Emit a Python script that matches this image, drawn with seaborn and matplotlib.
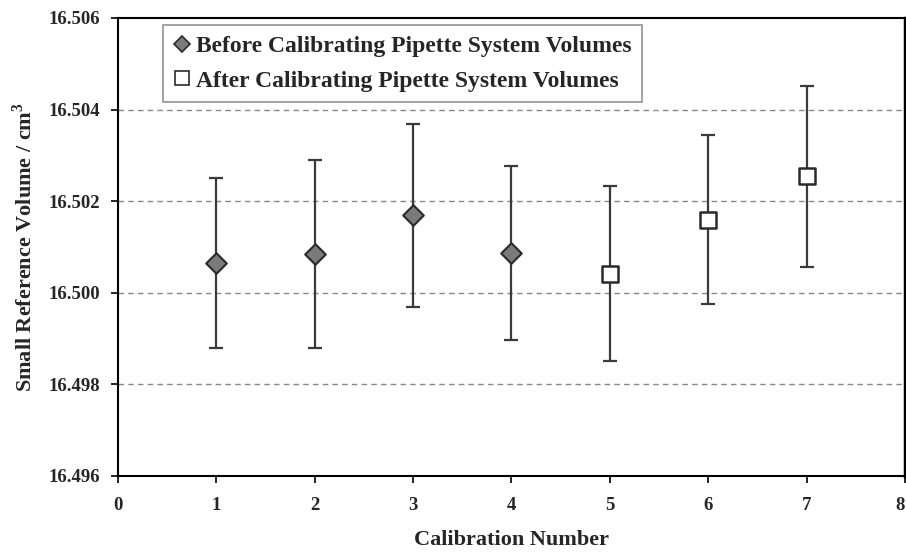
import matplotlib
matplotlib.use("Agg")
import matplotlib.pyplot as plt
import seaborn as sns
import pandas as pd
from matplotlib.lines import Line2D

calib_before = [1, 2, 3, 4]
vol_before = [16.50065, 16.50084, 16.50169, 16.50086]
err_before = [0.00186, 0.00205, 0.00200, 0.00190]

calib_after = [5, 6, 7]
vol_after = [16.50042, 16.50160, 16.50254]
err_after = [0.00191, 0.00184, 0.00197]

x_ticks = [0, 1, 2, 3, 4, 5, 6, 7, 8]
y_ticks = [16.496, 16.498, 16.500, 16.502, 16.504, 16.506]
label_before = "Before Calibrating Pipette System Volumes"
label_after = "After Calibrating Pipette System Volumes"

sns.set_style("white")
plt.rcParams['font.family'] = ['Liberation Serif', 'DejaVu Serif']
plt.rcParams['font.weight'] = 'bold'

df_b = pd.DataFrame({"x": calib_before, "y": vol_before})
df_a = pd.DataFrame({"x": calib_after, "y": vol_after})

fig = plt.figure(figsize=(9.06, 5.52), dpi=100)
ax = fig.add_axes([0.1302, 0.1377, 0.8687, 0.8297])

ax.errorbar(calib_before, vol_before, yerr=err_before, fmt='none', ecolor='#3a3a3a',
            elinewidth=1.6, capsize=5, capthick=1.6, zorder=2)
ax.errorbar(calib_after, vol_after, yerr=err_after, fmt='none', ecolor='#3a3a3a',
            elinewidth=1.6, capsize=5, capthick=1.6, zorder=2)

sns.scatterplot(data=df_b, x="x", y="y", marker="D", s=110, color="#7a7a7a",
                edgecolor="#2a2a2a", linewidth=1.5, ax=ax, zorder=3, legend=False)
sns.scatterplot(data=df_a, x="x", y="y", marker="s", s=120, color="white",
                edgecolor="#2a2a2a", linewidth=1.8, ax=ax, zorder=3, legend=False)

ax.set_xlim(0, 8)
ax.set_ylim(16.496, 16.506)
ax.set_xticks(x_ticks)
ax.set_yticks(y_ticks)
xlabs = ax.set_xticklabels([str(v) for v in x_ticks], fontsize=13.5, fontweight='bold')
xlabs[-1].set_horizontalalignment('right')
ax.set_yticklabels([f"{v:.3f}" for v in y_ticks], fontsize=13.5, fontweight='bold')

for v in [16.498, 16.500, 16.502, 16.504]:
    ax.axhline(v, color='#888888', linestyle=(0, (4, 3)), linewidth=1.0, zorder=1)

for s in ax.spines.values():
    s.set_color('black')
    s.set_linewidth(1.5)
ax.spines['right'].set_linewidth(2.5)

ax.tick_params(axis='both', direction='out', length=5, width=1.2, color='black',
               left=True, bottom=True)
ax.tick_params(axis='x', pad=10)
ax.tick_params(axis='y', pad=8)

ax.set_xlabel("Calibration Number", fontsize=16, fontweight='bold', labelpad=12)
ax.set_ylabel("Small Reference Volume / cm$^{\\mathregular{3}}$", fontsize=16,
              fontweight='bold', labelpad=8)

handles = [
    Line2D([], [], marker='D', linestyle='none', markersize=8.5, markerfacecolor='#7a7a7a',
           markeredgecolor='#2a2a2a', markeredgewidth=1.2),
    Line2D([], [], marker='s', linestyle='none', markersize=10, markerfacecolor='white',
           markeredgecolor='#2a2a2a', markeredgewidth=1.2),
]
leg = ax.legend(handles, [label_before, label_after], loc='upper left',
                bbox_to_anchor=(0.057, 0.985), frameon=True, fancybox=False,
                prop={'family': 'Liberation Serif', 'weight': 'bold', 'size': 17},
                handlelength=0.7, handletextpad=0.25, borderpad=0.45, labelspacing=0.55,
                borderaxespad=0)
leg.get_frame().set_edgecolor('#777777')
leg.get_frame().set_linewidth(1.2)

fig.savefig("out.png", dpi=100)
